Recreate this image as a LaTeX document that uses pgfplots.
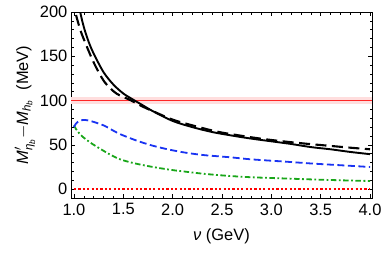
\documentclass[border=0pt]{standalone}
\usepackage{amsmath}
\usepackage{fontspec}
\setmainfont{Liberation Sans}
\usepackage{pgfplots}
\pgfplotsset{compat=1.18}
\definecolor{mgreen}{rgb}{0.1,0.65,0.1}
\definecolor{mblue}{rgb}{0.1,0.2,0.95}
\begin{document}
\fontsize{16.5}{19}\selectfont
\begin{tikzpicture}
\useasboundingbox (0,0) rectangle (382bp,254bp);
\begin{axis}[at={(71bp,56bp)}, anchor=south west, scale only axis,
  width=301bp, height=186bp,
  xmin=0.97, xmax=4.02, ymin=-10, ymax=200,
  xtick={1,1.5,2,2.5,3,3.5,4}, ytick={0,50,100,150,200},
  minor x tick num=4, minor y tick num=4,
  tick align=inside, major tick length=4bp, minor tick length=2.5bp,
  xticklabel style={/pgf/number format/.cd, fixed, fixed zerofill, precision=1},
  yticklabel style={xshift=2bp},
  /pgf/number format/assume math mode=true,
  axis line style={line width=0.6bp}, tick style={black, line width=0.5bp},
  every axis y label/.style={at={(rel axis cs:0,0.5)}, xshift=-46bp, rotate=90, anchor=center},
  every axis x label/.style={at={(rel axis cs:0.5,0)}, yshift=-38bp, anchor=center},
  xlabel={\textit{ν} (GeV)},
  ylabel={$\text{\itshape M}^{\prime}_{\text{\itshape η}_{\text{\itshape b}}}{-}\text{\itshape M}_{\text{\itshape h}_{\text{\itshape b}}}$\; (MeV)},
]
\addplot[draw=none, fill=red!13] coordinates {(0.97,96) (4.02,96) (4.02,104) (0.97,104)} -- cycle;
\addplot[red!85, line width=0.8bp] coordinates {(0.97,100) (4.02,100)};
\addplot[red, line width=1.8bp, dash pattern=on 2.2bp off 2.2bp] coordinates {(1.0,0) (4.0,0)};
\addplot[mgreen, line width=1.8bp, smooth, dash pattern=on 5.5bp off 2.5bp on 1.8bp off 2.5bp] coordinates {
(1.00,72) (1.02,68) (1.05,63.5) (1.09,59) (1.16,53) (1.23,48) (1.35,40) (1.46,34) (1.60,29.5)
(1.80,25) (2.00,21.5) (2.14,19.6) (2.30,17.5) (2.47,15.8) (2.60,14.7) (2.80,13.4) (3.15,12)
(3.40,11) (3.70,10) (4.00,9.2)};
\addplot[mblue, line width=1.8bp, smooth, dash pattern=on 7bp off 3.5bp] coordinates {
(1.00,70) (1.02,74) (1.05,77) (1.09,78) (1.15,77.5) (1.30,72) (1.45,63) (1.63,55) (1.80,49)
(1.97,44.5) (2.14,41) (2.31,38.5) (2.47,37) (2.60,35.8) (2.80,33.6) (3.15,31) (3.40,29)
(3.70,27) (4.00,25)};
\addplot[black, line width=2.1bp, smooth, dash pattern=on 11bp off 5.5bp] coordinates {
(1.00,215) (1.01,202) (1.05,185) (1.09,172) (1.20,143) (1.31,121) (1.43,108) (1.57,100.6)
(1.70,93) (1.80,88) (2.00,78.5) (2.20,72) (2.47,64.5) (2.80,58.5) (3.00,55.5) (3.20,53)
(3.40,50.8) (3.60,48.8) (3.80,46.8) (4.00,45)};
\addplot[black, line width=1.9bp, smooth] coordinates {
(1.03,225) (1.06,202) (1.10,183) (1.15,166) (1.20,153) (1.30,132) (1.40,118) (1.50,108)
(1.60,101) (1.70,94.5) (1.80,88) (2.00,77) (2.20,70) (2.40,64.5) (2.60,60.5) (2.80,57)
(3.00,54) (3.20,51) (3.40,47.5) (3.60,45) (3.80,42) (4.00,39.5)};
\end{axis}
\end{tikzpicture}
\end{document}
